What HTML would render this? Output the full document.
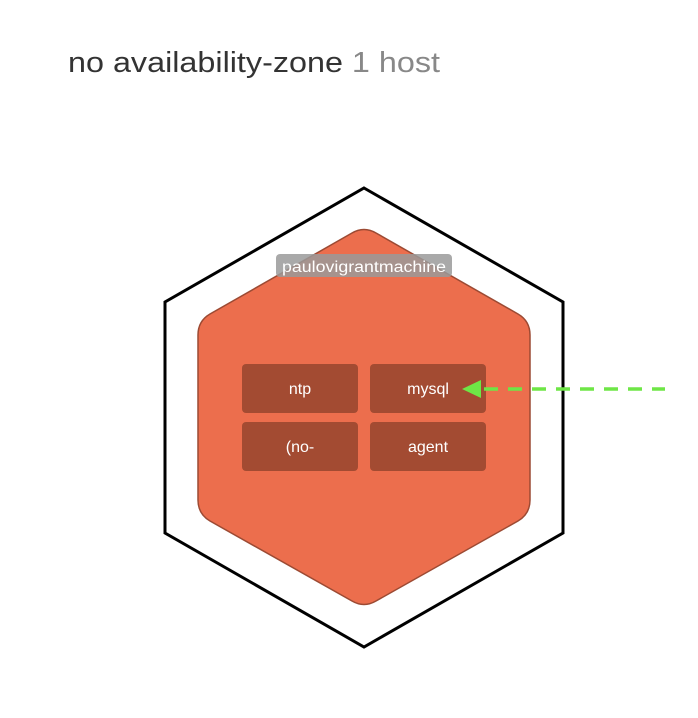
<!DOCTYPE html>
<html><head><meta charset="utf-8"><style>
body{margin:0;background:#fff;width:698px;height:718px;overflow:hidden;font-family:"Liberation Sans",sans-serif}
</style></head><body>
<svg width="698" height="718" xmlns="http://www.w3.org/2000/svg" style="position:absolute;left:0;top:0">
<text x="68" y="72" font-size="29" fill="#333" font-family="Liberation Sans, sans-serif" textLength="372" lengthAdjust="spacingAndGlyphs">no availability-zone <tspan fill="#888">1 host</tspan></text>
<polygon points="364,188 563,302 563,533 364,647 165,533 165,302" fill="none" stroke="#000" stroke-width="3"/>
<path d="M352,233 Q364,226 376,233 L518,314 Q530,321 530,335 L530,500 Q530,514 518,521 L376,601 Q364,608 352,601 L210,521 Q198,514 198,500 L198,335 Q198,321 210,314 Z" fill="#ec6e4d" stroke="#9c4a33" stroke-width="1.5"/>
<rect x="276" y="254" width="176" height="23" rx="4" fill="#9a9a9a" opacity="0.85"/>
<text x="364" y="272" font-size="15.5" fill="#fff" text-anchor="middle" textLength="164" lengthAdjust="spacingAndGlyphs">paulovigrantmachine</text>
<rect x="242" y="364" width="116" height="49" rx="4" fill="#a34b32"/>
<rect x="370" y="364" width="116" height="49" rx="4" fill="#a34b32"/>
<rect x="242" y="422" width="116" height="49" rx="4" fill="#a34b32"/>
<rect x="370" y="422" width="116" height="49" rx="4" fill="#a34b32"/>
<g font-size="16" fill="#fff" text-anchor="middle">
<text x="300" y="394">ntp</text>
<text x="428" y="394">mysql</text>
<text x="300" y="452">(no-</text>
<text x="428" y="452">agent</text>
</g>
<line x1="484" y1="389" x2="665" y2="389" stroke="#6ee646" stroke-width="3.5" stroke-dasharray="14,10"/>
<polygon points="462,389 481,380 481,398" fill="#6ee646"/>
</svg>
</body></html>
